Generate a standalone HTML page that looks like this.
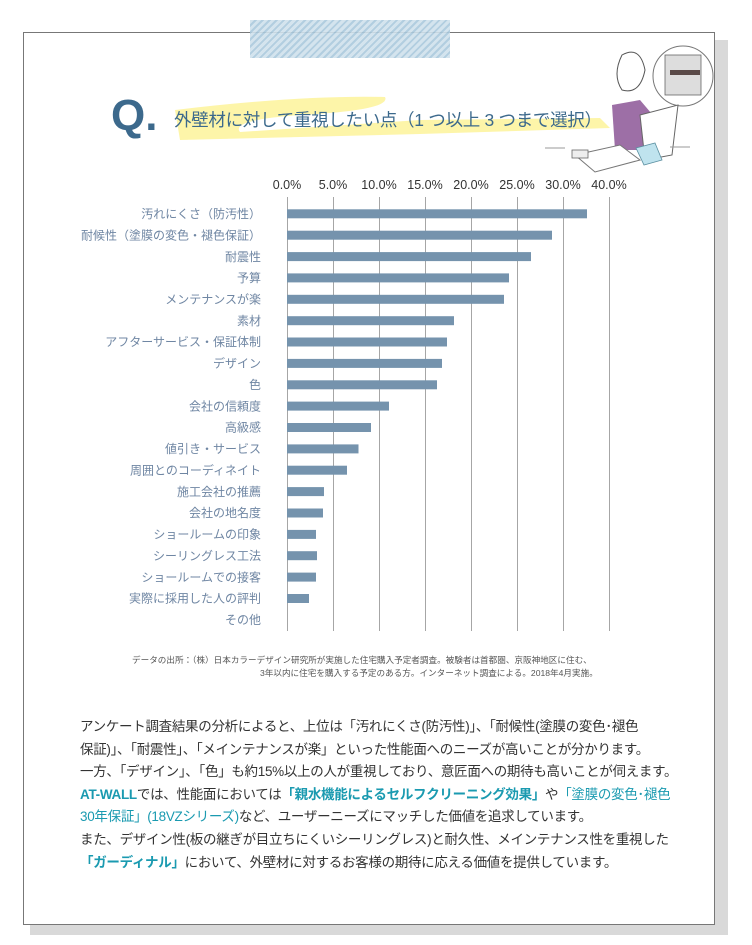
<!DOCTYPE html>
<html><head><meta charset="utf-8"><style>
body{margin:0;width:752px;height:945px;background:#fff;position:relative;overflow:hidden;font-family:"Liberation Sans","Noto Sans CJK JP",sans-serif;}
.shadow{position:absolute;left:30px;top:40px;width:698px;height:895px;background:#d9d9d9;}
.card{position:absolute;left:23px;top:32px;width:692px;height:893px;background:#fff;border:1px solid #777;box-sizing:border-box;}
.tape{position:absolute;left:250px;top:20px;width:200px;height:38px;background:repeating-linear-gradient(135deg,#cfe1ec 0 3px,#a9c8dc 3px 5px);opacity:.9;}
.p{position:absolute;left:80px;top:716px;width:620px;font-size:13.5px;line-height:22.6px;color:#333;letter-spacing:-0.3px;}
.p div{white-space:nowrap}
.p b{color:#1a9ab0;font-weight:bold}
.p span{color:#1a9ab0}
.fn{position:absolute;font-size:8.6px;color:#555;white-space:nowrap;}
</style></head><body>
<div class="shadow"></div>
<div class="card"></div>
<div class="tape"></div>
<svg width="752" height="945" style="position:absolute;left:0;top:0">
<path d="M175 110 Q300 95 385 97 Q392 110 300 115 Q230 120 240 132 L420 120 L600 118 L610 128 L420 134 L180 140 Z" fill="#fdf39a" opacity=".85"/>
<text x="111" y="130" font-size="44" font-weight="bold" fill="#3c698c" font-family="Liberation Sans">Q.</text>
<text x="174" y="126" font-size="17.5" fill="#3c698c" font-family="Liberation Sans,Noto Sans CJK JP,sans-serif" textLength="428">外壁材に対して重視したい点（1 つ以上 3 つまで選択）</text>
<circle cx="683" cy="76" r="30" fill="none" stroke="#777" stroke-width="1"/>
<rect x="665" y="55" width="36" height="40" fill="#ddd" stroke="#666" stroke-width=".8"/>
<rect x="670" y="70" width="30" height="5" fill="#5a4a48"/>
<path d="M612 105 L640 100 L657 120 L650 150 L615 150 Z" fill="#9d6fa6"/>
<path d="M622 55 Q640 45 645 70 Q640 95 622 90 Q612 75 622 55 Z" fill="#fff" stroke="#555" stroke-width="1"/>
<path d="M640 115 L678 105 L672 155 L645 160 Z" fill="#fff" stroke="#666" stroke-width="1"/>
<path d="M575 155 L620 145 L640 160 L595 172 Z" fill="#fff" stroke="#777" stroke-width="1"/>
<rect x="572" y="150" width="16" height="8" fill="#eee" stroke="#666" stroke-width=".8"/>
<path d="M636 148 L655 143 L662 160 L644 165 Z" fill="#bfe3ee" stroke="#5a8fa0" stroke-width=".8"/>
<line x1="545" y1="148" x2="565" y2="148" stroke="#999"/><line x1="670" y1="147" x2="690" y2="147" stroke="#999"/>
<g font-family="Liberation Sans,Noto Sans CJK JP,sans-serif">
<g font-size="12.5" fill="#333" text-anchor="middle">
<text x="287" y="189">0.0%</text><text x="333" y="189">5.0%</text><text x="379" y="189">10.0%</text><text x="425" y="189">15.0%</text><text x="471" y="189">20.0%</text><text x="517" y="189">25.0%</text><text x="563" y="189">30.0%</text><text x="609" y="189">40.0%</text>
</g>
<g stroke="#a6a6a6" stroke-width="1">
<line x1="287.5" y1="197" x2="287.5" y2="631"/><line x1="333.5" y1="197" x2="333.5" y2="631"/><line x1="379.5" y1="197" x2="379.5" y2="631"/><line x1="425.5" y1="197" x2="425.5" y2="631"/><line x1="471.5" y1="197" x2="471.5" y2="631"/><line x1="517.5" y1="197" x2="517.5" y2="631"/><line x1="563.5" y1="197" x2="563.5" y2="631"/><line x1="609.5" y1="197" x2="609.5" y2="631"/>
</g>
<g fill="#7593ad">
<rect x="287" y="209.3" width="300" height="9"/>
<rect x="287" y="230.7" width="265" height="9"/>
<rect x="287" y="252.1" width="244" height="9"/>
<rect x="287" y="273.4" width="222" height="9"/>
<rect x="287" y="294.8" width="217" height="9"/>
<rect x="287" y="316.2" width="167" height="9"/>
<rect x="287" y="337.5" width="160" height="9"/>
<rect x="287" y="358.9" width="155" height="9"/>
<rect x="287" y="380.3" width="150" height="9"/>
<rect x="287" y="401.6" width="102" height="9"/>
<rect x="287" y="423" width="84" height="9"/>
<rect x="287" y="444.4" width="71.5" height="9"/>
<rect x="287" y="465.7" width="60" height="9"/>
<rect x="287" y="487.1" width="37" height="9"/>
<rect x="287" y="508.5" width="36" height="9"/>
<rect x="287" y="529.9" width="29" height="9"/>
<rect x="287" y="551.2" width="30" height="9"/>
<rect x="287" y="572.6" width="29" height="9"/>
<rect x="287" y="594" width="22" height="9"/>
</g>
<g font-size="12" fill="#6f86a3" text-anchor="end">
<text x="261" y="218">汚れにくさ（防汚性）</text>
<text x="261" y="239.4">耐候性（塗膜の変色・褪色保証）</text>
<text x="261" y="260.8">耐震性</text>
<text x="261" y="282.1">予算</text>
<text x="261" y="303.5">メンテナンスが楽</text>
<text x="261" y="324.9">素材</text>
<text x="261" y="346.2">アフターサービス・保証体制</text>
<text x="261" y="367.6">デザイン</text>
<text x="261" y="389">色</text>
<text x="261" y="410.3">会社の信頼度</text>
<text x="261" y="431.7">高級感</text>
<text x="261" y="453.1">値引き・サービス</text>
<text x="261" y="474.4">周囲とのコーディネイト</text>
<text x="261" y="495.8">施工会社の推薦</text>
<text x="261" y="517.2">会社の地名度</text>
<text x="261" y="538.6">ショールームの印象</text>
<text x="261" y="559.9">シーリングレス工法</text>
<text x="261" y="581.3">ショールームでの接客</text>
<text x="261" y="602.7">実際に採用した人の評判</text>
<text x="261" y="624">その他</text>
</g></g>
</svg>
<div class="fn" style="left:132px;top:654px">データの出所：（株）日本カラーデザイン研究所が実施した住宅購入予定者調査。被験者は首都圏、京阪神地区に住む、</div>
<div class="fn" style="left:260px;top:667px">3年以内に住宅を購入する予定のある方。インターネット調査による。2018年4月実施。</div>
<div class="p">
<div>アンケート調査結果の分析によると、上位は「汚れにくさ(防汚性)」、「耐候性(塗膜の変色･褪色</div>
<div>保証)」、「耐震性」、「メインテナンスが楽」といった性能面へのニーズが高いことが分かります。</div>
<div>一方、「デザイン」、「色」も約15%以上の人が重視しており、意匠面への期待も高いことが伺えます。</div>
<div><b>AT-WALL</b>では、性能面においては<b>「親水機能によるセルフクリーニング効果」</b>や<span>「塗膜の変色･褪色</span></div>
<div><span>30年保証」(18VZシリーズ)</span>など、ユーザーニーズにマッチした価値を追求しています。</div>
<div>また、デザイン性(板の継ぎが目立ちにくいシーリングレス)と耐久性、メインテナンス性を重視した</div>
<div><b>「ガーディナル」</b>において、外壁材に対するお客様の期待に応える価値を提供しています。</div>
</div>
</body></html>
